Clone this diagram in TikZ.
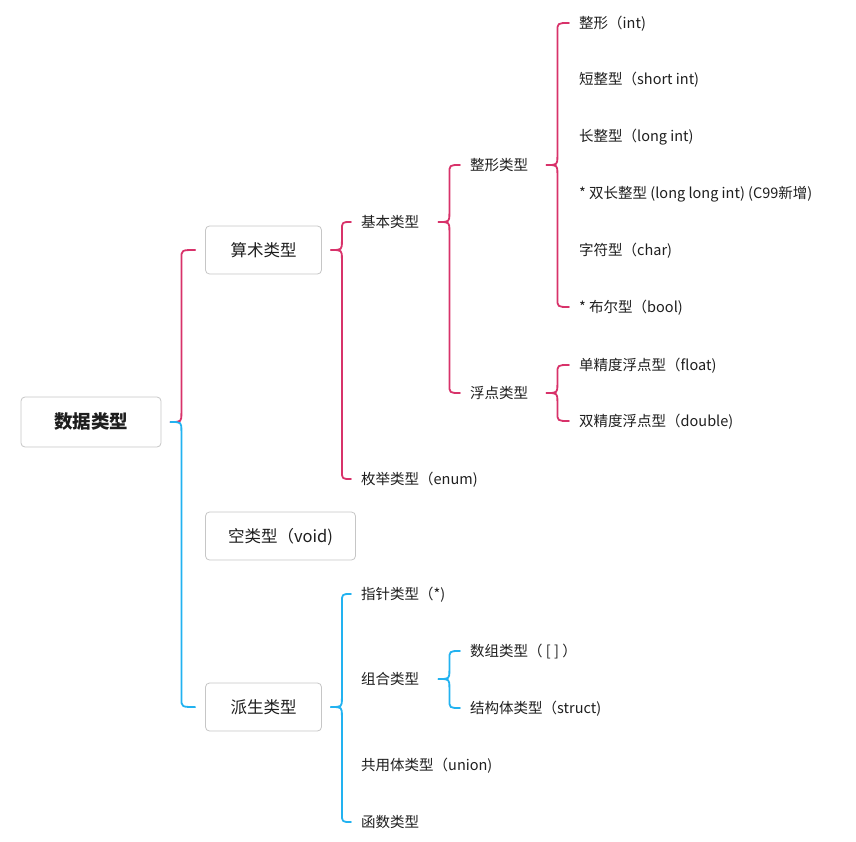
\documentclass[tikz,border=0pt]{standalone}
\usepackage{fontspec}
\setmainfont{Noto Sans CJK SC}
\usepackage{xcolor}
\definecolor{ink}{HTML}{1E1E1E}
\definecolor{frame}{HTML}{C6C6C6}
\definecolor{arith}{HTML}{D8326A}
\definecolor{derived}{HTML}{22B2F0}
\usepackage{tikz}
\usetikzlibrary{calc}
\tikzset{
  topic/.style={draw=frame, fill=white, rounded corners=4pt, line width=0.8pt, align=center,
    text=ink, inner sep=0pt, text height=1.35em, text depth=0.06em},
  root/.style={topic, font=\fontsize{18.5}{22}\selectfont\bfseries, minimum width=140, minimum height=50},
  main/.style={topic, font=\fontsize{16.5}{20}\selectfont, minimum height=48},
  leaf/.style={anchor=west, inner sep=0pt, text=ink, font=\fontsize{14.5}{18}\selectfont,
    text height=1.16em, text depth=0.06em},
  brace/.style={draw=#1, line width=1.8pt, line cap=round, line join=round},
}
% one half of a curly bracket: from the cusp next to the parent to one child
% #5 = 1 if the child sits above the parent, -1 if below
\newcommand{\halfbrace}[5]{%
  \draw[brace=#1] let \p1=(#2.east), \p2=(#3.west) in
    ({\x1+#4},\y1) .. controls ({\x1+#4+11pt},\y1) .. ({\x1+#4+11pt},{\y1+#5*9pt})
    -- ({\x1+#4+11pt},{\y2-#5*9pt}) .. controls ({\x1+#4+11pt},\y2) .. ({\x2-10pt},\y2);}
\newcommand{\typebrace}[5]{% colour, parent, first, last, gap
  \halfbrace{#1}{#2}{#3}{#5}{1}\halfbrace{#1}{#2}{#4}{#5}{-1}}

\begin{document}
\begin{tikzpicture}[x=1pt, y=-1pt]
  \useasboundingbox (0,0) rectangle (856,842);

  % boxed topics
  \node[root] (data) at (91,422) {数据类型};
  \node[main, minimum width=116] (arith) at (263.5,250) {算术类型};
  \node[main, minimum width=150] (void) at (280.5,536) {空类型（void)};
  \node[main, minimum width=116] (deriv) at (263.5,707) {派生类型};

  % arithmetic branch
  \node[leaf] (basic) at (361,222) {基本类型};
  \node[leaf] (enum) at (361,479) {枚举类型（enum)};
  \node[leaf] (integer) at (470,165) {整形类型};
  \node[leaf] (floating) at (470,393) {浮点类型};
  \node[leaf] (int) at (579,23) {整形（int)};
  \node[leaf] (short) at (579,79) {短整型（short int)};
  \node[leaf] (long) at (579,136) {长整型（long int)};
  \node[leaf] (llong) at (579,193) {* 双长整型 (long long int) (C99新增)};
  \node[leaf] (char) at (579,250) {字符型（char)};
  \node[leaf] (bool) at (579,307) {* 布尔型（bool)};
  \node[leaf] (float) at (579,365) {单精度浮点型（float)};
  \node[leaf] (double) at (579,421) {双精度浮点型（double)};

  % derived branch
  \node[leaf] (pointer) at (361,594) {指针类型（*)};
  \node[leaf] (compound) at (361,679) {组合类型};
  \node[leaf] (union) at (361,765) {共用体类型（union)};
  \node[leaf] (func) at (361,822) {函数类型};
  \node[leaf] (array) at (470,651) {数组类型（ [ ] ）};
  \node[leaf] (struct) at (470,708) {结构体类型（struct)};

  % brackets
  \halfbrace{arith}{data}{arith}{9pt}{1}
  \halfbrace{derived}{data}{deriv}{9pt}{-1}
  \typebrace{arith}{arith}{basic}{enum}{9pt}
  \typebrace{arith}{basic}{integer}{floating}{19pt}
  \typebrace{arith}{integer}{int}{bool}{18pt}
  \typebrace{arith}{floating}{float}{double}{18pt}
  \typebrace{derived}{deriv}{pointer}{func}{9pt}
  \typebrace{derived}{compound}{array}{struct}{19pt}
\end{tikzpicture}
\end{document}
